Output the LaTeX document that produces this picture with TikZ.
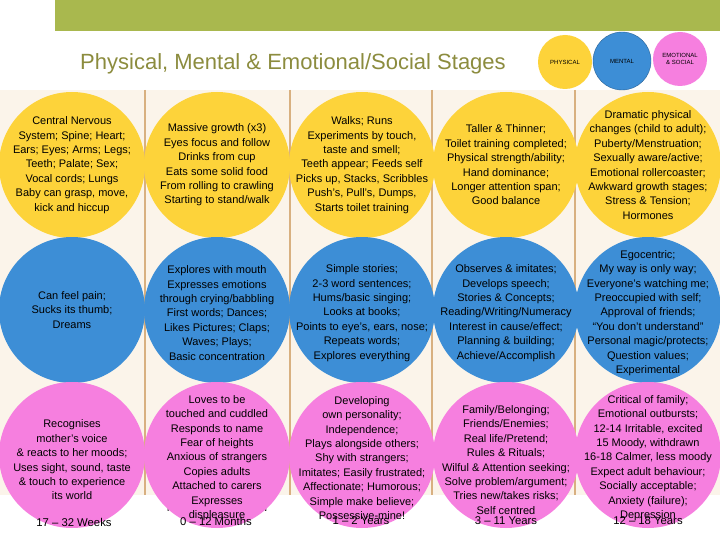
\documentclass[tikz,border=0pt]{standalone}
\usepackage{fontspec}
\setmainfont{Liberation Sans}
\begin{document}
\begin{tikzpicture}[x=1pt,y=-1pt,
  disc/.style={circle,minimum size=146pt,inner sep=0pt},
  txt/.style={align=center,inner sep=0pt,font=\fontsize{11}{14.4}\selectfont},
  leg/.style={circle,inner sep=0pt,align=center,font=\fontsize{6}{7}\selectfont},
  stage/.style={font=\fontsize{11.3}{13}\selectfont},
  sep/.style={draw=tan,line width=1.2pt}]
\definecolor{yel}{HTML}{FDD33A}
\definecolor{blu}{HTML}{3D8ED6}
\definecolor{pnk}{HTML}{F67FDF}
\definecolor{grn}{HTML}{A9B84E}
\definecolor{olive}{HTML}{8C8C3E}
\definecolor{tan}{HTML}{D8B080}
\definecolor{beige}{HTML}{FBF4EA}
\useasboundingbox (0,0) rectangle (720,540);
\fill[white] (0,0) rectangle (720,540);
\fill[grn] (55,0) rectangle (720,31);
\fill[beige] (0,90) rectangle (720,495);
\foreach \x in {145,290,432,575} \draw[sep] (\x,90) -- (\x,495);
\node[font=\fontsize{22}{24}\selectfont,text=olive] (title) at (293,64) {Physical, Mental \& Emotional/Social Stages};
\node[leg,fill=yel,minimum size=54pt] (lp) at (565,62) {PHYSICAL};
\node[leg,fill=blu,draw=blu!70!black,minimum size=58pt] (lm) at (622,61) {MENTAL};
\node[leg,fill=pnk,minimum size=54pt] (le) at (680,59) {EMOTIONAL\\\& SOCIAL};
% stage labels (partly hidden behind circles)
\node[stage,text=pnk!60] (s1) at (72,508) {IN-UTERO};
\node[stage] (s2) at (218,508) {NEWBORN INFANT};
\node[stage] (s3) at (360,508) {TODDLER};
\node[stage,text=pnk!60] (s4) at (506,508) {CHILD};
\node[stage,text=pnk!60] (s5) at (648,508) {ADOLESCENT};
% discs
\foreach \n/\x/\y/\c in {p1/72/165/yel,p2/217/165/yel,p3/362/165/yel,p4/506/165/yel,p5/648/165/yel,
  m1/72/310/blu,m2/217/310/blu,m3/362/310/blu,m4/506/310/blu,m5/648/310/blu,
  e1/72/455/pnk,e2/217/455/pnk,e3/362/455/pnk,e4/506/455/pnk,e5/648/455/pnk}
  \node[disc,fill=\c] (\n) at (\x,\y) {};
% yellow row
\node[txt] (p1t) at (p1) {Central Nervous\\System; Spine; Heart;\\Ears; Eyes; Arms; Legs;\\Teeth; Palate; Sex;\\Vocal cords; Lungs\\Baby can grasp, move,\\kick and hiccup};
\node[txt] (p2t) at (p2) {Massive growth (x3)\\Eyes focus and follow\\Drinks from cup\\Eats some solid food\\From rolling to crawling\\Starting to stand/walk};
\node[txt] (p3t) at (p3) {Walks; Runs\\Experiments by touch,\\taste and smell;\\Teeth appear;  Feeds self\\Picks up, Stacks, Scribbles\\Push's, Pull's, Dumps,\\Starts toilet training};
\node[txt] (p4t) at (p4) {Taller \& Thinner;\\Toilet training completed;\\Physical strength/ability;\\Hand dominance;\\Longer attention span;\\Good balance};
\node[txt] (p5t) at (p5) {Dramatic physical\\changes (child to adult);\\Puberty/Menstruation;\\Sexually aware/active;\\Emotional rollercoaster;\\Awkward growth stages;\\Stress \& Tension;\\Hormones};
% blue row
\node[txt] (m1t) at (m1) {Can feel pain;\\Sucks its thumb;\\Dreams};
\node[txt] (m2t) at ([yshift=-3pt]m2) {Explores with mouth\\Expresses emotions\\through crying/babbling\\First words; Dances;\\Likes Pictures; Claps;\\Waves; Plays;\\Basic concentration};
\node[txt] (m3t) at ([yshift=-3pt]m3) {Simple stories;\\2-3 word sentences;\\Hums/basic singing;\\Looks at books;\\Points to eye's, ears, nose;\\Repeats words;\\Explores everything};
\node[txt] (m4t) at ([yshift=-3pt]m4) {Observes \& imitates;\\Develops speech;\\Stories \& Concepts;\\Reading/Writing/Numeracy\\Interest in cause/effect;\\Planning \& building;\\Achieve/Accomplish};
\node[txt] (m5t) at ([yshift=-3pt]m5) {Egocentric;\\My way is only way;\\Everyone's watching me;\\Preoccupied with self;\\Approval of friends;\\``You don't understand''\\Personal magic/protects;\\Question values;\\Experimental};
% pink row
\node[txt] (e1t) at ([yshift=-5pt]e1) {Recognises\\mother's voice\\\& reacts to her moods;\\Uses sight, sound, taste\\\& touch to experience\\its world};
\node[txt] (e2t) at ([yshift=-3pt]e2) {Loves to be\\touched and cuddled\\Responds to name\\Fear of heights\\Anxious of strangers\\Copies adults\\Attached to carers\\Expresses\\displeasure};
\node[txt] (e3t) at ([yshift=-3pt]e3) {Developing\\own personality;\\Independence;\\Plays alongside others;\\Shy with strangers;\\Imitates; Easily frustrated;\\Affectionate; Humorous;\\Simple make believe;\\Possessive-mine!};
\node[txt] (e4t) at ([yshift=-5pt]e4) {Family/Belonging;\\Friends/Enemies;\\Real life/Pretend;\\Rules \& Rituals;\\Wilful \& Attention seeking;\\Solve problem/argument;\\Tries new/takes risks;\\Self centred};
\node[txt] (e5t) at ([yshift=-3pt]e5) {Critical of family;\\Emotional outbursts;\\12-14 Irritable, excited\\15 Moody, withdrawn\\16-18 Calmer, less moody\\Expect adult behaviour;\\Socially acceptable;\\Anxiety (failure);\\Depression};
% ages
\node[stage] (a1) at (74,522) {17 – 32 Weeks};
\node[stage] (a2) at (216,521) {0 – 12 Months};
\node[stage] (a3) at (361,521) {1 – 2 Years};
\node[stage] (a4) at (506,521) {3 – 11 Years};
\node[stage] (a5) at (648,521) {12 – 18 Years};
\end{tikzpicture}
\end{document}
